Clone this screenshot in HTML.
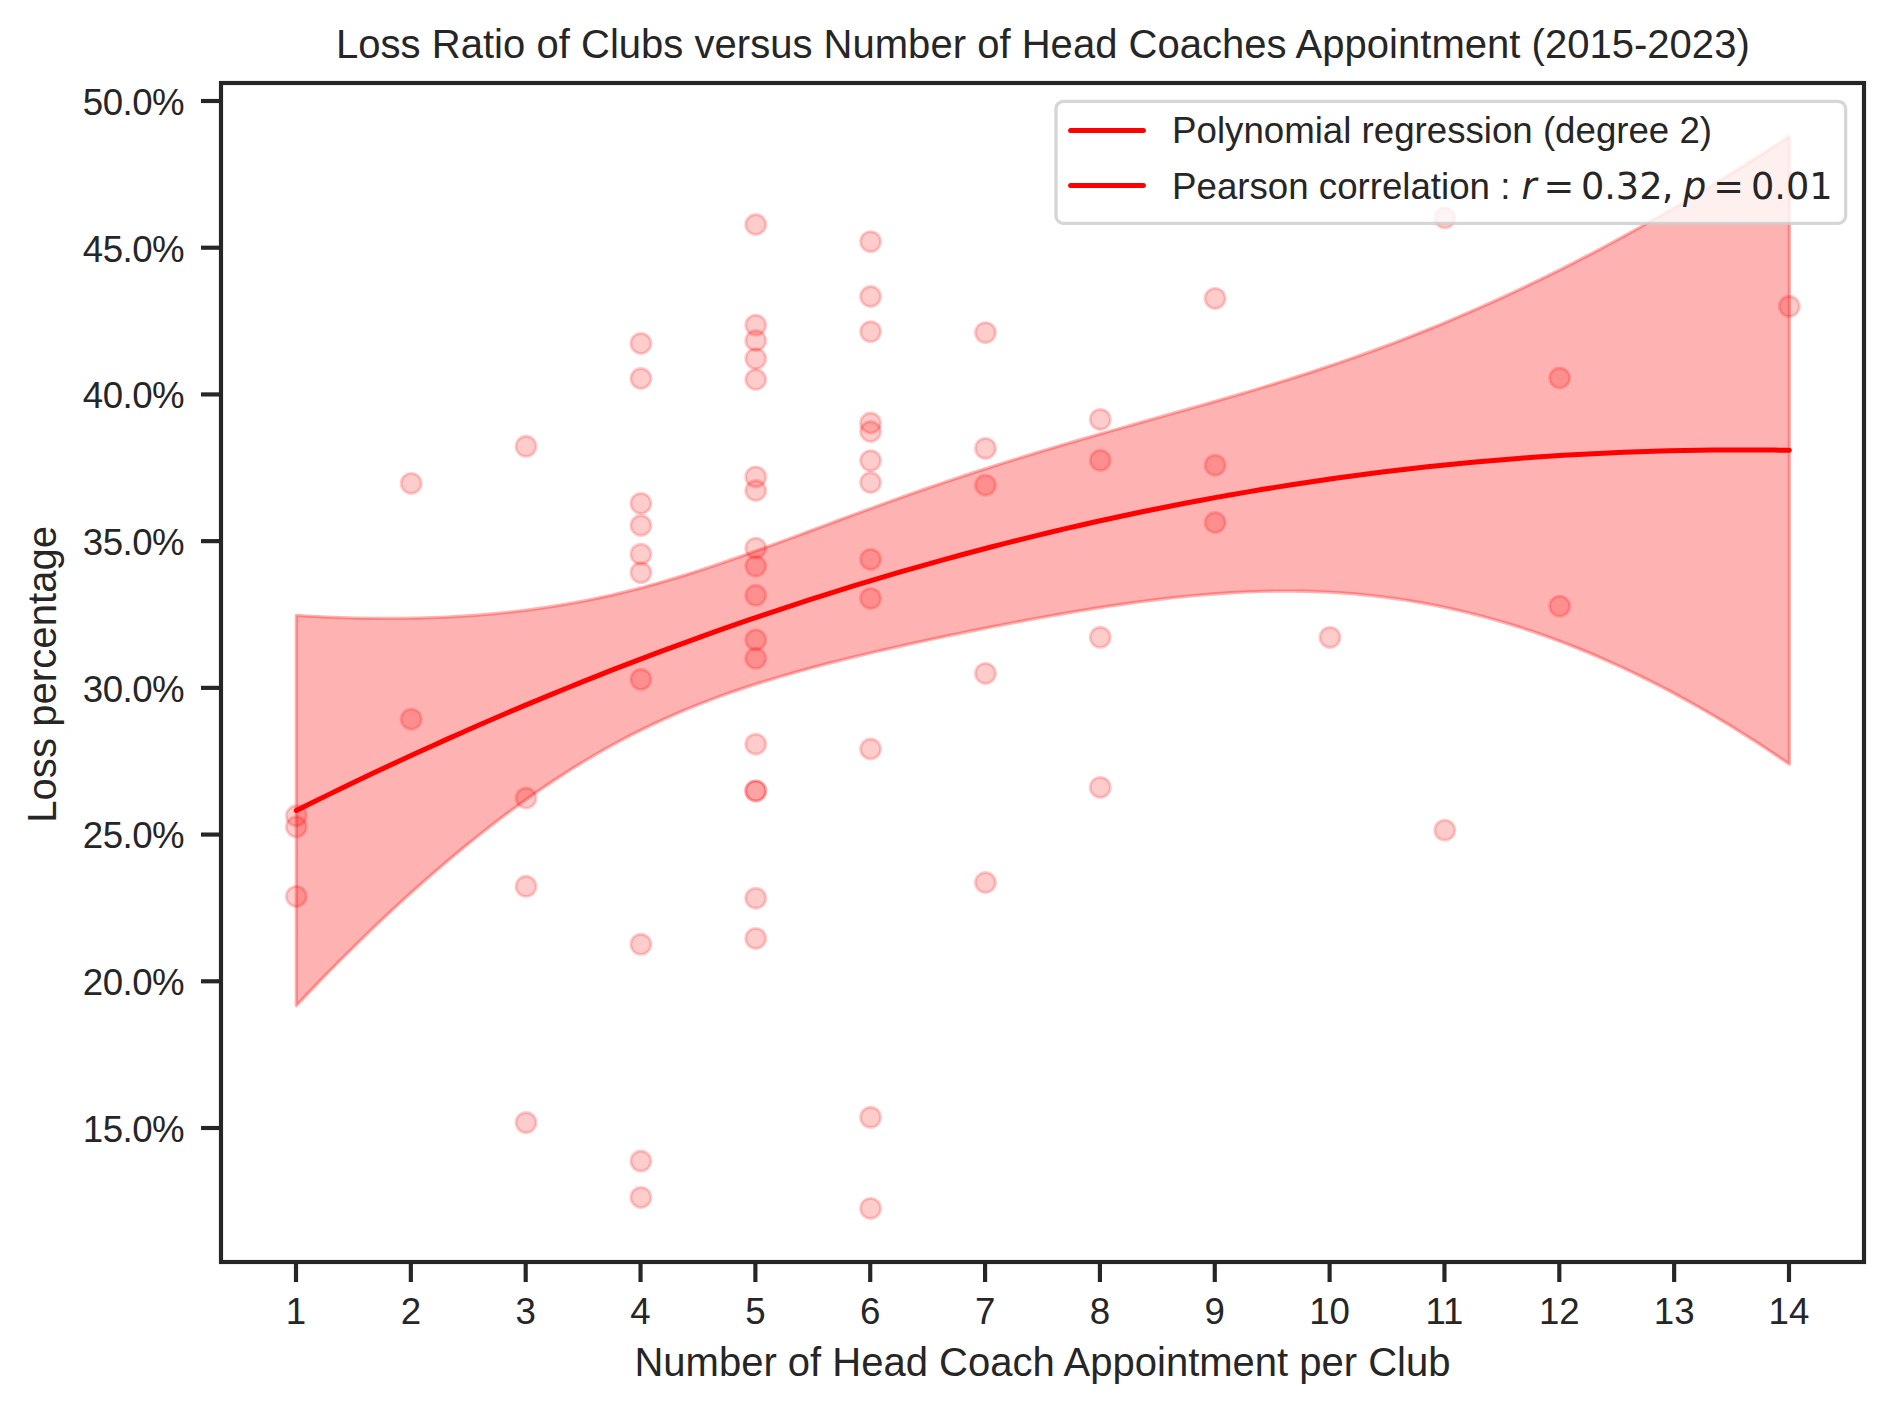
<!DOCTYPE html>
<html lang="en"><head><meta charset="utf-8"><title>Loss Ratio of Clubs versus Number of Head Coaches Appointment (2015-2023)</title>
<style>
html,body{margin:0;padding:0;background:#fff}
body{width:1893px;height:1413px;overflow:hidden}
svg{display:block}
text{font-family:"Liberation Sans",sans-serif;fill:#262626}
.t40{font-size:40px}
.t37{font-size:36.67px}
.dv{font-family:"DejaVu Sans","Liberation Sans",sans-serif}
.dvi{font-family:"DejaVu Sans","Liberation Sans",sans-serif;font-style:italic}
.pt{fill:rgba(255,0,0,.2);stroke:rgba(255,0,0,.2);stroke-width:2.85}
</style></head><body>
<svg width="1893" height="1413" viewBox="0 0 1893 1413">
<rect width="1893" height="1413" fill="#fff"/>
<g class="pt">
<circle cx="296.35" cy="815.8" r="10.05"/>
<circle cx="296.35" cy="826.8" r="10.05"/>
<circle cx="296.35" cy="896.4" r="10.05"/>
<circle cx="411.2" cy="483.4" r="10.05"/>
<circle cx="411.2" cy="719.2" r="10.05"/>
<circle cx="526.04" cy="446.3" r="10.05"/>
<circle cx="526.04" cy="798" r="10.05"/>
<circle cx="526.04" cy="886.3" r="10.05"/>
<circle cx="526.04" cy="1122.6" r="10.05"/>
<circle cx="640.89" cy="343.4" r="10.05"/>
<circle cx="640.89" cy="378.5" r="10.05"/>
<circle cx="640.89" cy="503.4" r="10.05"/>
<circle cx="640.89" cy="525.5" r="10.05"/>
<circle cx="640.89" cy="554.2" r="10.05"/>
<circle cx="640.89" cy="572.6" r="10.05"/>
<circle cx="640.89" cy="679.3" r="10.05"/>
<circle cx="640.89" cy="944.3" r="10.05"/>
<circle cx="640.89" cy="1161.1" r="10.05"/>
<circle cx="640.89" cy="1197.4" r="10.05"/>
<circle cx="755.73" cy="224.5" r="10.05"/>
<circle cx="755.73" cy="325.1" r="10.05"/>
<circle cx="755.73" cy="340.5" r="10.05"/>
<circle cx="755.73" cy="358.6" r="10.05"/>
<circle cx="755.73" cy="379.5" r="10.05"/>
<circle cx="755.73" cy="476.9" r="10.05"/>
<circle cx="755.73" cy="490.5" r="10.05"/>
<circle cx="755.73" cy="548.1" r="10.05"/>
<circle cx="755.73" cy="566.1" r="10.05"/>
<circle cx="755.73" cy="595.3" r="10.05"/>
<circle cx="755.73" cy="639.8" r="10.05"/>
<circle cx="755.73" cy="658.3" r="10.05"/>
<circle cx="755.73" cy="744.2" r="10.05"/>
<circle cx="755.73" cy="790.9" r="10.05"/>
<circle cx="755.73" cy="790.9" r="10.05"/>
<circle cx="755.73" cy="898.2" r="10.05"/>
<circle cx="755.73" cy="938.4" r="10.05"/>
<circle cx="870.58" cy="241.6" r="10.05"/>
<circle cx="870.58" cy="296.5" r="10.05"/>
<circle cx="870.58" cy="331.6" r="10.05"/>
<circle cx="870.58" cy="423" r="10.05"/>
<circle cx="870.58" cy="431.5" r="10.05"/>
<circle cx="870.58" cy="460.6" r="10.05"/>
<circle cx="870.58" cy="482.5" r="10.05"/>
<circle cx="870.58" cy="559.4" r="10.05"/>
<circle cx="870.58" cy="598.4" r="10.05"/>
<circle cx="870.58" cy="749" r="10.05"/>
<circle cx="870.58" cy="1117.3" r="10.05"/>
<circle cx="870.58" cy="1208.4" r="10.05"/>
<circle cx="985.43" cy="332.6" r="10.05"/>
<circle cx="985.43" cy="448.4" r="10.05"/>
<circle cx="985.43" cy="485.2" r="10.05"/>
<circle cx="985.43" cy="673.4" r="10.05"/>
<circle cx="985.43" cy="882.5" r="10.05"/>
<circle cx="1100.27" cy="419.4" r="10.05"/>
<circle cx="1100.27" cy="460.3" r="10.05"/>
<circle cx="1100.27" cy="637.3" r="10.05"/>
<circle cx="1100.27" cy="787.4" r="10.05"/>
<circle cx="1215.12" cy="298.4" r="10.05"/>
<circle cx="1215.12" cy="465.2" r="10.05"/>
<circle cx="1215.12" cy="522.5" r="10.05"/>
<circle cx="1329.97" cy="637.4" r="10.05"/>
<circle cx="1444.81" cy="217.8" r="10.05"/>
<circle cx="1444.81" cy="830.2" r="10.05"/>
<circle cx="1559.66" cy="378" r="10.05"/>
<circle cx="1559.66" cy="606.1" r="10.05"/>
<circle cx="1789.35" cy="306.3" r="10.05"/>
</g>
<path d="M296.35,615.42 L311.43,616.32 L326.51,617.06 L341.59,617.65 L356.67,618.09 L371.75,618.35 L386.83,618.45 L401.92,618.38 L417,618.12 L432.08,617.68 L447.16,617.04 L462.24,616.2 L477.32,615.16 L492.4,613.89 L507.48,612.4 L522.56,610.66 L537.64,608.68 L552.72,606.45 L567.8,603.94 L582.89,601.17 L597.97,598.11 L613.05,594.78 L628.13,591.16 L643.21,587.27 L658.29,583.11 L673.37,578.7 L688.45,574.05 L703.53,569.19 L718.61,564.14 L733.69,558.92 L748.77,553.57 L763.86,548.1 L778.94,542.56 L794.02,536.96 L809.1,531.34 L824.18,525.7 L839.26,520.08 L854.34,514.49 L869.42,508.94 L884.5,503.45 L899.58,498.03 L914.66,492.69 L929.74,487.43 L944.82,482.26 L959.91,477.18 L974.99,472.19 L990.07,467.3 L1005.15,462.49 L1020.23,457.78 L1035.31,453.15 L1050.39,448.59 L1065.47,444.11 L1080.55,439.69 L1095.63,435.33 L1110.71,431.01 L1125.79,426.73 L1140.88,422.47 L1155.96,418.22 L1171.04,413.97 L1186.12,409.71 L1201.2,405.42 L1216.28,401.09 L1231.36,396.71 L1246.44,392.26 L1261.52,387.74 L1276.6,383.12 L1291.68,378.4 L1306.76,373.56 L1321.84,368.61 L1336.93,363.52 L1352.01,358.29 L1367.09,352.92 L1382.17,347.39 L1397.25,341.71 L1412.33,335.86 L1427.41,329.85 L1442.49,323.67 L1457.57,317.33 L1472.65,310.82 L1487.73,304.13 L1502.81,297.28 L1517.9,290.26 L1532.98,283.07 L1548.06,275.71 L1563.14,268.19 L1578.22,260.5 L1593.3,252.65 L1608.38,244.63 L1623.46,236.46 L1638.54,228.13 L1653.62,219.64 L1668.7,211 L1683.78,202.2 L1698.87,193.26 L1713.95,184.16 L1729.03,174.91 L1744.11,165.52 L1759.19,155.98 L1774.27,146.3 L1789.35,136.47 L1789.35,764.15 L1774.27,753.89 L1759.19,743.93 L1744.11,734.28 L1729.03,724.93 L1713.95,715.88 L1698.87,707.14 L1683.78,698.7 L1668.7,690.58 L1653.62,682.76 L1638.54,675.26 L1623.46,668.07 L1608.38,661.19 L1593.3,654.64 L1578.22,648.4 L1563.14,642.48 L1548.06,636.89 L1532.98,631.62 L1517.9,626.67 L1502.81,622.05 L1487.73,617.75 L1472.65,613.78 L1457.57,610.14 L1442.49,606.83 L1427.41,603.84 L1412.33,601.17 L1397.25,598.83 L1382.17,596.8 L1367.09,595.09 L1352.01,593.69 L1336.93,592.59 L1321.84,591.79 L1306.76,591.28 L1291.68,591.05 L1276.6,591.09 L1261.52,591.39 L1246.44,591.94 L1231.36,592.72 L1216.28,593.73 L1201.2,594.95 L1186.12,596.36 L1171.04,597.96 L1155.96,599.73 L1140.88,601.66 L1125.79,603.73 L1110.71,605.94 L1095.63,608.27 L1080.55,610.71 L1065.47,613.26 L1050.39,615.89 L1035.31,618.62 L1020.23,621.42 L1005.15,624.29 L990.07,627.24 L974.99,630.25 L959.91,633.33 L944.82,636.47 L929.74,639.68 L914.66,642.95 L899.58,646.3 L884.5,649.73 L869.42,653.25 L854.34,656.87 L839.26,660.6 L824.18,664.46 L809.1,668.46 L794.02,672.63 L778.94,676.98 L763.86,681.55 L748.77,686.35 L733.69,691.42 L718.61,696.78 L703.53,702.47 L688.45,708.5 L673.37,714.9 L658.29,721.7 L643.21,728.91 L628.13,736.54 L613.05,744.61 L597.97,753.12 L582.89,762.06 L567.8,771.44 L552.72,781.24 L537.64,791.48 L522.56,802.12 L507.48,813.17 L492.4,824.62 L477.32,836.45 L462.24,848.66 L447.16,861.23 L432.08,874.16 L417,887.45 L401.92,901.08 L386.83,915.04 L371.75,929.34 L356.67,943.96 L341.59,958.91 L326.51,974.17 L311.43,989.75 L296.35,1005.63Z" fill="rgba(255,0,0,.3)" stroke="rgba(255,0,0,.3)" stroke-width="3.33" stroke-linejoin="round"/>
<polyline points="296.35,810.52 311.43,803.03 326.51,795.62 341.59,788.28 356.67,781.02 371.75,773.85 386.83,766.75 401.92,759.73 417,752.78 432.08,745.92 447.16,739.14 462.24,732.43 477.32,725.8 492.4,719.25 507.48,712.78 522.56,706.39 537.64,700.08 552.72,693.84 567.8,687.69 582.89,681.61 597.97,675.61 613.05,669.69 628.13,663.85 643.21,658.09 658.29,652.41 673.37,646.8 688.45,641.28 703.53,635.83 718.61,630.46 733.69,625.17 748.77,619.96 763.86,614.82 778.94,609.77 794.02,604.79 809.1,599.9 824.18,595.08 839.26,590.34 854.34,585.68 869.42,581.1 884.5,576.59 899.58,572.17 914.66,567.82 929.74,563.55 944.82,559.36 959.91,555.25 974.99,551.22 990.07,547.27 1005.15,543.39 1020.23,539.6 1035.31,535.88 1050.39,532.24 1065.47,528.68 1080.55,525.2 1095.63,521.8 1110.71,518.48 1125.79,515.23 1140.88,512.06 1155.96,508.98 1171.04,505.97 1186.12,503.04 1201.2,500.18 1216.28,497.41 1231.36,494.72 1246.44,492.1 1261.52,489.56 1276.6,487.1 1291.68,484.72 1306.76,482.42 1321.84,480.2 1336.93,478.06 1352.01,475.99 1367.09,474 1382.17,472.1 1397.25,470.27 1412.33,468.52 1427.41,466.84 1442.49,465.25 1457.57,463.74 1472.65,462.3 1487.73,460.94 1502.81,459.66 1517.9,458.46 1532.98,457.34 1548.06,456.3 1563.14,455.33 1578.22,454.45 1593.3,453.64 1608.38,452.91 1623.46,452.26 1638.54,451.69 1653.62,451.2 1668.7,450.79 1683.78,450.45 1698.87,450.2 1713.95,450.02 1729.03,449.92 1744.11,449.9 1759.19,449.96 1774.27,450.1 1789.35,450.31" fill="none" stroke="#f00" stroke-width="5" stroke-linecap="round" stroke-linejoin="round"/>
<g stroke="#262626" stroke-width="4.17" fill="none">
<line x1="296" y1="1262" x2="296" y2="1282"/>
<line x1="410.85" y1="1262" x2="410.85" y2="1282"/>
<line x1="525.69" y1="1262" x2="525.69" y2="1282"/>
<line x1="640.54" y1="1262" x2="640.54" y2="1282"/>
<line x1="755.38" y1="1262" x2="755.38" y2="1282"/>
<line x1="870.23" y1="1262" x2="870.23" y2="1282"/>
<line x1="985.08" y1="1262" x2="985.08" y2="1282"/>
<line x1="1099.92" y1="1262" x2="1099.92" y2="1282"/>
<line x1="1214.77" y1="1262" x2="1214.77" y2="1282"/>
<line x1="1329.62" y1="1262" x2="1329.62" y2="1282"/>
<line x1="1444.46" y1="1262" x2="1444.46" y2="1282"/>
<line x1="1559.31" y1="1262" x2="1559.31" y2="1282"/>
<line x1="1674.15" y1="1262" x2="1674.15" y2="1282"/>
<line x1="1789" y1="1262" x2="1789" y2="1282"/>
<line x1="201" y1="101" x2="221" y2="101"/>
<line x1="201" y1="247.71" x2="221" y2="247.71"/>
<line x1="201" y1="394.43" x2="221" y2="394.43"/>
<line x1="201" y1="541.14" x2="221" y2="541.14"/>
<line x1="201" y1="687.86" x2="221" y2="687.86"/>
<line x1="201" y1="834.57" x2="221" y2="834.57"/>
<line x1="201" y1="981.29" x2="221" y2="981.29"/>
<line x1="201" y1="1128" x2="221" y2="1128"/>
<rect x="221" y="83" width="1643" height="1179" stroke-linejoin="miter"/>
</g>
<g class="t37" text-anchor="middle">
<text x="296" y="1324">1</text>
<text x="410.85" y="1324">2</text>
<text x="525.69" y="1324">3</text>
<text x="640.54" y="1324">4</text>
<text x="755.38" y="1324">5</text>
<text x="870.23" y="1324">6</text>
<text x="985.08" y="1324">7</text>
<text x="1099.92" y="1324">8</text>
<text x="1214.77" y="1324">9</text>
<text x="1329.62" y="1324">10</text>
<text x="1444.46" y="1324">11</text>
<text x="1559.31" y="1324">12</text>
<text x="1674.15" y="1324">13</text>
<text x="1789" y="1324">14</text>
</g>
<g class="t37" text-anchor="end" letter-spacing="-0.5">
<text x="184.2" y="114.9">50.0%</text>
<text x="184.2" y="261.61">45.0%</text>
<text x="184.2" y="408.33">40.0%</text>
<text x="184.2" y="555.04">35.0%</text>
<text x="184.2" y="701.76">30.0%</text>
<text x="184.2" y="848.47">25.0%</text>
<text x="184.2" y="995.19">20.0%</text>
<text x="184.2" y="1141.9">15.0%</text>
</g>
<text class="t40" text-anchor="middle" x="1042.9" y="58.1" letter-spacing="0.025">Loss Ratio of Clubs versus Number of Head Coaches Appointment (2015-2023)</text>
<text class="t40" text-anchor="middle" x="1042.5" y="1376.2">Number of Head Coach Appointment per Club</text>
<text class="t40" text-anchor="middle" transform="translate(56.3 674.3) rotate(-90)" letter-spacing="0.08">Loss percentage</text>
<rect x="1056" y="101.4" width="789.6" height="121.9" rx="7.3" ry="7.3" fill="rgba(255,255,255,.8)" stroke="rgba(204,204,204,.8)" stroke-width="3.33"/>
<g stroke="#f00" stroke-width="5" stroke-linecap="round"><line x1="1070.6" y1="130.4" x2="1143.4" y2="130.4"/><line x1="1070.6" y1="185.4" x2="1143.4" y2="185.4"/></g>
<g class="t37">
<text x="1172.1" y="142.8">Polynomial regression (degree 2)</text>
<text x="1172.1" y="198.8">Pearson correlation : </text>
<text class="dvi" x="1521.5" y="199.3">r</text>
<text class="dv" x="1543.5" y="199.3">=</text>
<text class="dv" x="1580.9" y="199.3">0.32</text>
<text class="dv" x="1661.7" y="199.3">,</text>
<text class="dvi" x="1682.9" y="199.3">p</text>
<text class="dv" x="1713.2" y="199.3">=</text>
<text class="dv" x="1751" y="199.3">0.01</text>
</g>
</svg></body></html>
